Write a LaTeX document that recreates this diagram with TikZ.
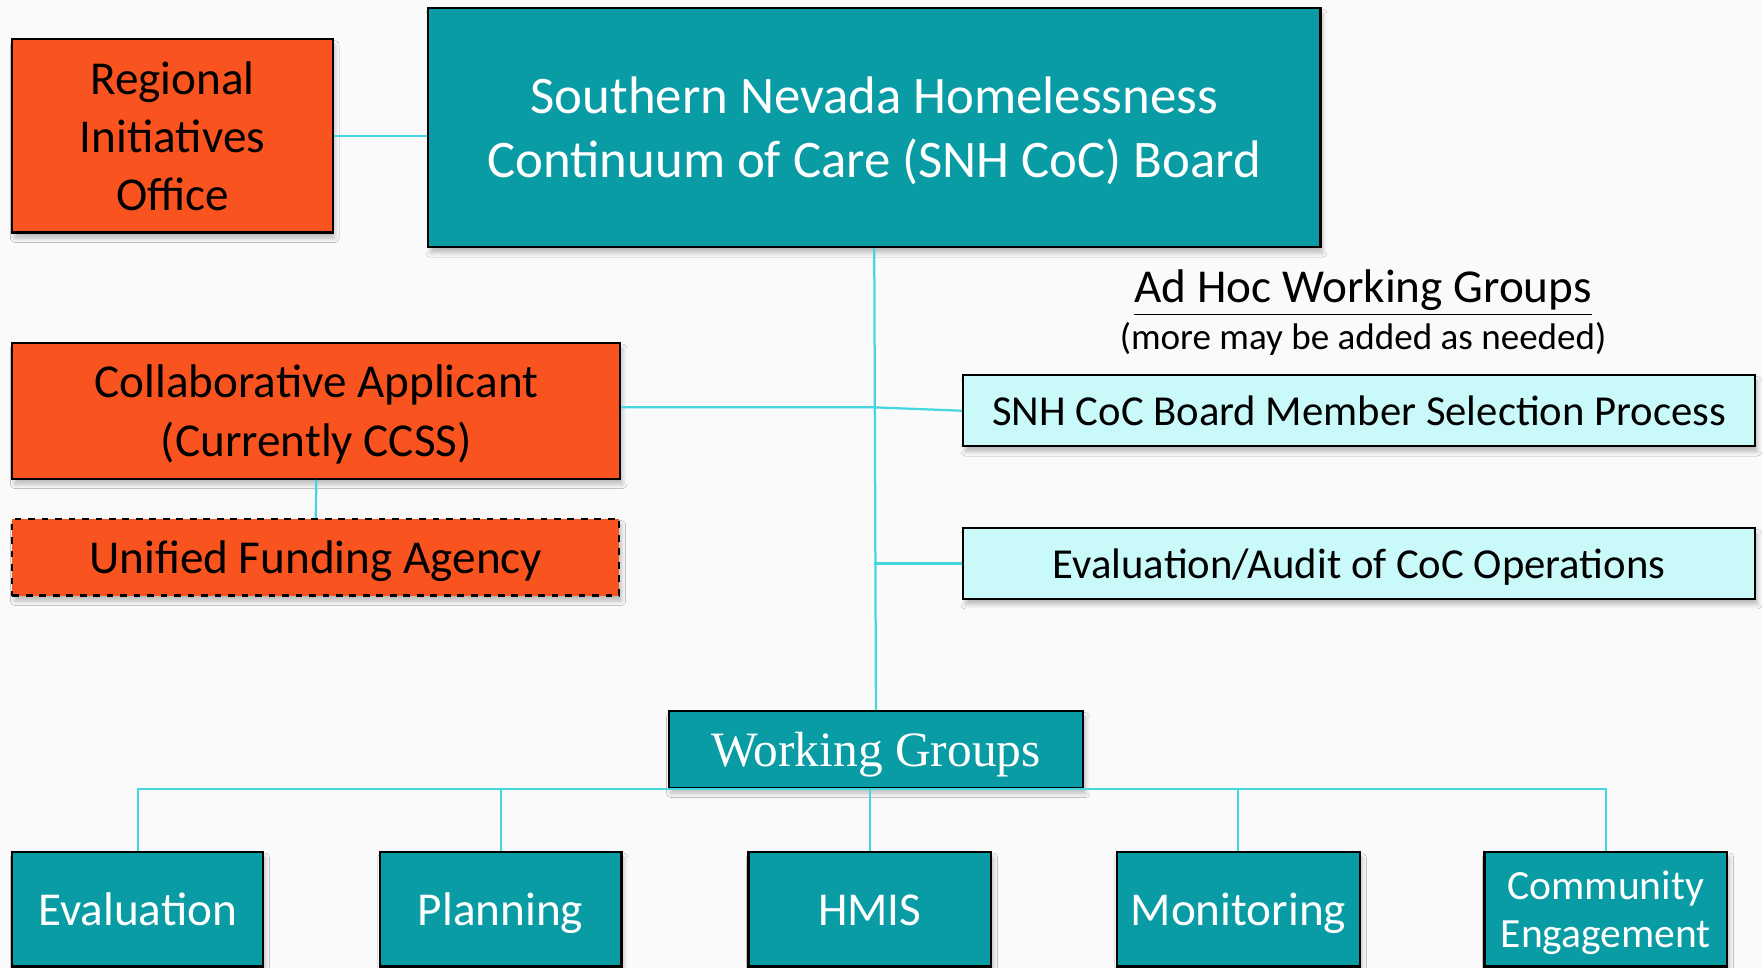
\documentclass[tikz,border=0pt]{standalone}
\usepackage{fontspec}
\setmainfont{Carlito}
\newfontfamily\wgfont{Liberation Serif}
\usetikzlibrary{shadows.blur}
\definecolor{teal1}{HTML}{0A9CA4}
\definecolor{orng}{HTML}{F9531F}
\definecolor{lcyan}{HTML}{C9F9F9}
\definecolor{conn}{HTML}{45D6E0}
\definecolor{bgc}{HTML}{FAFAFA}
\tikzset{
  box/.style={draw=black, line width=1pt, rectangle, inner sep=0pt, align=center,
    blur shadow={shadow xshift=1pt, shadow yshift=-2.5pt, shadow blur steps=6, shadow opacity=25}},
  tealbox/.style={box, fill=teal1, text=white},
  orangebox/.style={box, fill=orng, text=black},
  cyanbox/.style={box, fill=lcyan, text=black},
  link/.style={draw=conn, line width=1pt},
}
\begin{document}
\begin{tikzpicture}[x=0.5pt, y=-0.5pt]
\fill[bgc] (0,0) rectangle (1568,861);
\useasboundingbox (0,0) rectangle (1568,861);

% top
\node[orangebox, minimum width=142.5pt, minimum height=86pt, text height=66pt, text depth=0pt,
  font=\fontsize{21pt}{25.75pt}\selectfont] (rio) at (153.5,121) {Regional\\Initiatives\\Office};
\node[tealbox, minimum width=397pt, minimum height=106.5pt, text height=44.7pt, text depth=0pt,
  font=\fontsize{23.5pt}{28.5pt}\selectfont] (board) at (778,113.5) {Southern Nevada Homelessness\\Continuum of Care (SNH CoC) Board};

% left
\node[orangebox, minimum width=270.5pt, minimum height=60.5pt, text height=40.5pt, text depth=0pt,
  font=\fontsize{21pt}{26pt}\selectfont] (collab) at (281.5,365.5) {Collaborative Applicant\\(Currently CCSS)};
\node[orangebox, dashed, minimum width=270pt, minimum height=34pt, text height=14.5pt, text depth=0pt,
  font=\fontsize{21pt}{26pt}\selectfont] (ufa) at (281,496) {Unified Funding Agency};

% ad hoc
\node[font=\fontsize{21pt}{26pt}\selectfont, inner sep=0pt, text height=14.5pt, text depth=0pt] (adhoc) at (1213,255) {\underline{Ad Hoc Working Groups}};
\node[font=\fontsize{16.5pt}{20pt}\selectfont, inner sep=0pt, text height=11.4pt, text depth=0pt] (more) at (1213,300) {(more may be added as needed)};
\node[cyanbox, minimum width=352.5pt, minimum height=31.5pt, text height=13.1pt, text depth=0pt,
  font=\fontsize{19pt}{23pt}\selectfont] (snh) at (1209.5,365.5) {SNH CoC Board Member Selection Process};
\node[cyanbox, minimum width=352.5pt, minimum height=31.5pt, text height=13.1pt, text depth=0pt,
  font=\fontsize{19pt}{23pt}\selectfont] (audit) at (1209.5,501.5) {Evaluation/Audit of CoC Operations};

% working groups
\node[tealbox, minimum width=184.5pt, minimum height=34pt, text height=15pt, text depth=0pt,
  font=\wgfont\fontsize{22pt}{26pt}\selectfont] (wg) at (779.5,667) {Working Groups};

\tikzset{btm/.style={tealbox, minimum height=51pt, text height=14.5pt, text depth=0pt, font=\fontsize{21pt}{25pt}\selectfont}}
\node[btm, minimum width=111.5pt] (eval) at (122.5,809) {Evaluation};
\node[btm, minimum width=107.5pt] (plan) at (445.5,809) {Planning};
\node[btm, minimum width=108pt] (hmis) at (774,809) {HMIS};
\node[btm, minimum width=108pt] (mon) at (1102,809) {Monitoring};
\node[btm, minimum width=108pt, text height=33.8pt, text depth=0pt, font=\fontsize{18.5pt}{21pt}\selectfont] (comm) at (1429,809) {Community\\Engagement};

% connectors
\coordinate (j1) at ([yshift=1.5pt]board.south |- collab.east);
\coordinate (j2) at (board.south |- audit.west);
\draw[link] (rio.east) -- (rio.east -| board.west);
\draw[link] (board.south) -- (wg.north);
\draw[link] ([yshift=1.5pt]collab.east) -- (j1) -- (snh.west);
\draw[link] (j2) -- (audit.west);
\draw[link] (collab.south) -- (ufa.north);
\draw[link] (eval.north) -- (eval.north |- wg.south) -- (comm.north |- wg.south) -- (comm.north);
\draw[link] (plan.north) -- (plan.north |- wg.south);
\draw[link] (hmis.north) -- (hmis.north |- wg.south);
\draw[link] (mon.north) -- (mon.north |- wg.south);
\end{tikzpicture}
\end{document}
